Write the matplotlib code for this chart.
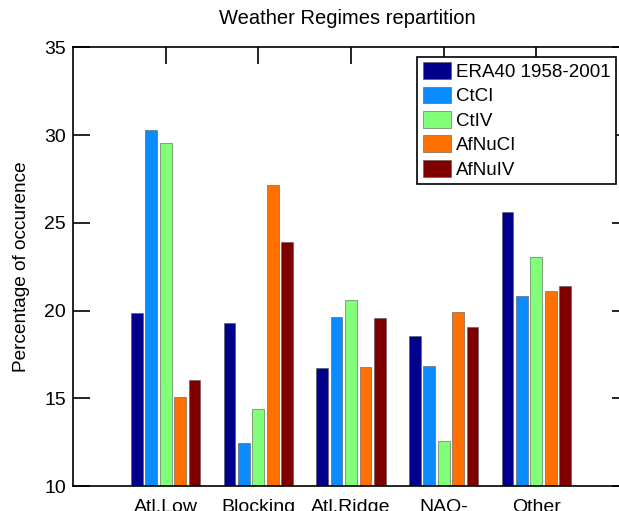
import matplotlib
matplotlib.use("Agg")
import matplotlib.pyplot as plt
import numpy as np

plt.rcParams['font.family'] = ['Liberation Sans', 'DejaVu Sans']

categories = ["Atl.Low", "Blocking", "Atl.Ridge", "NAO-", "Other"]
series_names = ["ERA40 1958-2001", "CtCI", "CtIV", "AfNuCI", "AfNuIV"]
era40 = [19.86, 19.31, 16.75, 18.57, 25.6]
ctci = [30.3, 12.43, 19.65, 16.86, 20.85]
ctiv = [29.54, 14.37, 20.6, 12.57, 23.07]
afnuci = [15.09, 27.16, 16.8, 19.94, 21.12]
afnuiv = [16.04, 23.93, 19.6, 19.08, 21.4]
colors = ["#00008C", "#0A8CFF", "#82FF78", "#FF7000", "#800000"]

series = [era40, ctci, ctiv, afnuci, afnuiv]

fig = plt.figure(figsize=(6.19, 5.11), dpi=100)
ax = fig.add_axes([73/619, 25/511, 556/619, 438.7/511])

x = np.arange(1, len(categories) + 1)
slot = 0.155
width = 0.126
for i, (vals, name, c) in enumerate(zip(series, series_names, colors)):
    ax.bar(x + (i - 2) * slot, np.array(vals) - 10, bottom=10, width=width,
           color=c, edgecolor="#555555", linewidth=0.4, label=name, zorder=2)

ax.set_xlim(0, 6)
ax.set_ylim(10, 35)
ax.set_xticks(x)
ax.set_xticklabels(categories, fontsize=14)
ax.set_yticks([10, 15, 20, 25, 30, 35])
ax.set_yticklabels(["10", "15", "20", "25", "30", "35"], fontsize=14)
ax.tick_params(direction="in", length=12, width=1.2, top=True, right=True)
ax.tick_params(axis="y", pad=5)
ax.tick_params(axis="x", pad=9)
ax.set_axisbelow(True)
for s in ax.spines.values():
    s.set_linewidth(1.2)

ax.set_ylabel("Percentage of occurence", fontsize=13.7, labelpad=10)
fig.text(347/619, 1 - 18/511, "Weather Regimes repartition", ha="center", va="center", fontsize=14.5)

leg = ax.legend(loc="upper right", bbox_to_anchor=(0.9766, 0.979), fontsize=13.5,
                frameon=True, fancybox=False, shadow=False, framealpha=1,
                edgecolor="black", handlelength=1.5, handleheight=1.0,
                handletextpad=0.25, labelspacing=0.3, borderpad=0.3,
                borderaxespad=0)
leg.get_frame().set_linewidth(1.2)

fig.savefig("out.png", dpi=100)
